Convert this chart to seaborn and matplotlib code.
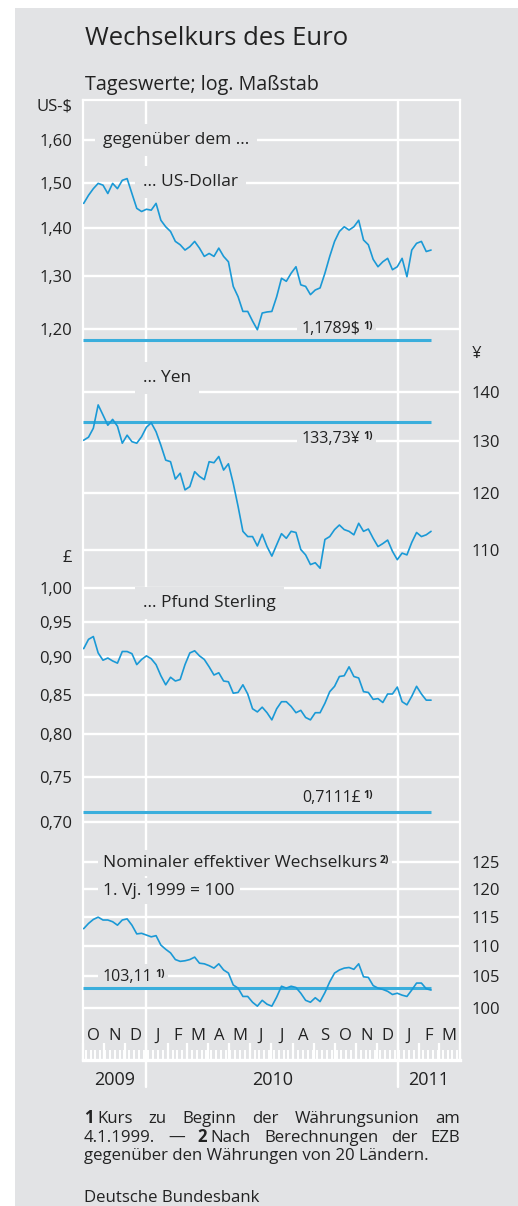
import numpy as np
import pandas as pd
import matplotlib
matplotlib.use("Agg")
import matplotlib.pyplot as plt
import matplotlib.dates as mdates
import matplotlib.transforms as mtransforms
from matplotlib.patches import Rectangle
from matplotlib.ticker import FixedLocator, FuncFormatter, NullLocator
import seaborn as sns

# weekly readings taken off the daily chart, Oct 2009 - Feb 2011
dates = pd.date_range("2009-10-02", periods=73, freq="7D")

usd = [1.453, 1.471, 1.486, 1.498, 1.494, 1.475, 1.498, 1.486, 1.505, 1.509,
       1.475, 1.442, 1.435, 1.440, 1.438, 1.453, 1.416, 1.402, 1.392, 1.371,
       1.364, 1.353, 1.360, 1.371, 1.357, 1.340, 1.346, 1.340, 1.357, 1.340,
       1.329, 1.280, 1.260, 1.232, 1.232, 1.214, 1.198, 1.229, 1.231, 1.232,
       1.260, 1.296, 1.290, 1.306, 1.319, 1.283, 1.280, 1.264, 1.273, 1.277,
       1.306, 1.340, 1.371, 1.392, 1.402, 1.395, 1.402, 1.416, 1.374, 1.364,
       1.334, 1.319, 1.329, 1.336, 1.313, 1.319, 1.336, 1.299, 1.353, 1.367,
       1.371, 1.350, 1.353]

jpy = [130.1, 130.7, 132.5, 137.3, 135.2, 133.1, 134.3, 132.9, 129.5, 131.1,
       129.8, 129.5, 130.8, 132.7, 133.6, 131.8, 129.1, 126.2, 125.9, 122.6,
       123.7, 120.6, 121.2, 124.0, 123.1, 122.5, 125.9, 125.7, 126.9, 124.3,
       125.5, 121.8, 117.6, 113.2, 112.3, 112.3, 110.7, 112.7, 110.6, 109.0,
       110.9, 112.8, 112.0, 113.2, 113.0, 110.1, 109.2, 107.6, 107.9, 107.0,
       111.8, 112.3, 113.5, 114.3, 113.5, 113.2, 112.6, 114.6, 113.2, 113.6,
       112.0, 110.6, 111.1, 111.7, 109.8, 108.4, 109.5, 109.2, 111.3, 113.0,
       112.3, 112.6, 113.2]

gbp = [0.912, 0.925, 0.929, 0.906, 0.896, 0.899, 0.895, 0.892, 0.908, 0.908,
       0.905, 0.890, 0.897, 0.902, 0.898, 0.890, 0.875, 0.863, 0.873, 0.868,
       0.870, 0.890, 0.906, 0.909, 0.902, 0.897, 0.887, 0.876, 0.879, 0.868,
       0.867, 0.852, 0.853, 0.863, 0.851, 0.832, 0.828, 0.834, 0.827, 0.818,
       0.832, 0.841, 0.841, 0.835, 0.827, 0.830, 0.821, 0.818, 0.827, 0.827,
       0.839, 0.854, 0.861, 0.874, 0.875, 0.887, 0.874, 0.872, 0.854, 0.853,
       0.844, 0.845, 0.840, 0.851, 0.851, 0.860, 0.841, 0.837, 0.848, 0.861,
       0.851, 0.843, 0.843]

neer = [112.9, 113.8, 114.5, 114.9, 114.4, 114.4, 114.1, 113.5, 114.4, 114.6,
        113.5, 112.0, 112.1, 111.8, 111.5, 111.7, 110.1, 109.4, 108.8, 107.7,
        107.4, 107.5, 107.7, 108.1, 107.1, 107.0, 106.7, 106.3, 107.0, 106.0,
        105.5, 103.6, 103.1, 101.8, 101.8, 100.9, 100.3, 101.2, 100.6, 100.3,
        101.7, 103.4, 103.1, 103.4, 103.2, 102.3, 101.2, 100.9, 101.6, 101.0,
        102.4, 104.1, 105.5, 106.0, 106.3, 106.4, 106.1, 107.0, 104.9, 104.8,
        103.5, 103.1, 102.9, 102.6, 102.1, 102.3, 102.0, 101.8, 102.8, 103.9,
        103.9, 103.0, 102.8]

usd_ticks = [1.20, 1.30, 1.40, 1.50, 1.60]
jpy_ticks = [110, 120, 130, 140]
gbp_ticks = [0.70, 0.75, 0.80, 0.85, 0.90, 0.95, 1.00]
neer_ticks = [100, 105, 110, 115, 120, 125]

# rates at the start of monetary union, 4.1.1999
usd_start = 1.1789
jpy_start = 133.73
gbp_start = 0.7111
neer_start = 103.11

month_letters = list("ONDJFMAMJJASONDJFM")
years = ["2009", "2010", "2011"]

x_start = pd.Timestamp("2009-10-01")
x_end = pd.Timestamp("2011-04-01")

# ---- layout (pixels of the 518 x 1206 image) ----
W, H = 518, 1206
L, R, T, B = 83, 460, 100, 1060
K = 655.0  # pixels per unit of ln on every log panel

BG = "#e2e3e5"
INK = "#222222"
BLUE = "#1a99d6"
REF = "#3aaedc"

sns.set_style("white")
plt.rcParams["font.family"] = ["Open Sans", "DejaVu Sans"]

fig = plt.figure(figsize=(W / 100, H / 100), dpi=100, facecolor="white")
fig.patches.append(Rectangle((15 / W, 0), 1 - 15 / W, 1 - 8 / H, transform=fig.transFigure,
                             fc=BG, ec="none", zorder=-5))
rect = [L / W, 1 - B / H, (R - L) / W, (B - T) / H]


def frac(px, py):
    return ((px - L) / (R - L), (B - py) / (B - T))


def label(ax, px, py, s, sup=None, size=12.5, sup_size=7.5, pad=0.3):
    t = ax.text(*frac(px, py), s, transform=ax.transAxes, ha="left", va="center",
                fontsize=size, color=INK, zorder=6,
                bbox=dict(boxstyle=f"square,pad={pad}", fc=BG, ec="none"))
    if sup:
        ax.annotate(sup, xy=(1, 1.02), xycoords=t, xytext=(1.8, 0), textcoords="offset points",
                    ha="left", va="top", fontsize=sup_size, fontweight="bold", color=INK, zorder=6,
                    bbox=dict(boxstyle="square,pad=0.3", fc=BG, ec="none"))
    return t


panels = [
    (usd, usd_ticks, usd_start, 1.40, 227.7, "left", "{:.2f}"),
    (jpy, jpy_ticks, jpy_start, 130.0, 440.7, "right", "{:.0f}"),
    (gbp, gbp_ticks, gbp_start, 0.90, 657.3, "left", "{:.2f}"),
    (neer, neer_ticks, neer_start, 110.0, 945.7, "right", "{:.0f}"),
]

axes = []
for values, ticks, start, anchor, anchor_px, side, fmt in panels:
    ax = fig.add_axes(rect, sharex=axes[0] if axes else None)
    ax.set_facecolor("none")
    ax.set_yscale("log")
    ax.set_ylim(anchor * np.exp(-(B - anchor_px) / K), anchor * np.exp((anchor_px - T) / K))
    ax.yaxis.set_major_locator(FixedLocator(ticks))
    ax.yaxis.set_minor_locator(NullLocator())
    ax.yaxis.set_major_formatter(FuncFormatter(lambda v, p, f=fmt: f.format(v).replace(".", ",")))
    if side == "right":
        ax.yaxis.tick_right()
        ax.tick_params(axis="y", length=0, pad=8.6, labelsize=12, labelcolor=INK)
    else:
        ax.tick_params(axis="y", length=0, pad=7.9, labelsize=12, labelcolor=INK)
    ax.grid(axis="y", color="white", lw=1.7)
    ax.grid(axis="x", visible=False)
    for s in ax.spines.values():
        s.set_visible(False)

    # reference line sits above the caption boxes so it is never cut
    ax.hlines(start, x_start, dates[-1], color=REF, lw=2.2, zorder=7)
    sns.lineplot(x=dates, y=values, ax=ax, color=BLUE, linewidth=1.2, zorder=8)
    ax.set(xlabel=None, ylabel=None)
    ax.tick_params(axis="x", which="both", bottom=False, labelbottom=False)
    axes.append(ax)

ax_usd, ax_jpy, ax_gbp, ax_neer = axes

# frame, month ticks and year separators on the base panel
ax0 = ax_usd
ax0.set_xlim(x_start, x_end)
for side in ["left", "top", "right"]:
    ax0.spines[side].set_visible(True)
    ax0.spines[side].set_color("white")
    ax0.spines[side].set_linewidth(1.6)
ax0.spines["bottom"].set_visible(True)
ax0.spines["bottom"].set_color("white")
ax0.spines["bottom"].set_linewidth(2.4)
ax0.xaxis.set_major_locator(mdates.MonthLocator())
ax0.xaxis.set_minor_locator(mdates.WeekdayLocator(byweekday=mdates.MO))
ax0.tick_params(axis="x", which="major", bottom=True, direction="in", length=12.5, width=1.6,
                color="white", labelbottom=False)
ax0.tick_params(axis="x", which="minor", bottom=True, direction="in", length=7.5, width=1.4,
                color="white", labelbottom=False)
for d in ["2010-01-01", "2011-01-01"]:
    ax0.axvline(pd.Timestamp(d), ymin=-(1087 - B) / (B - T), ymax=1, color="white", lw=1.7,
                clip_on=False, zorder=2)

xt = mtransforms.blended_transform_factory(ax0.transData, ax0.transAxes)
month_starts = pd.date_range(x_start, periods=len(month_letters) + 1, freq="MS")
for m0, m1, letter in zip(month_starts[:-1], month_starts[1:], month_letters):
    ax0.text(m0 + (m1 - m0) / 2, frac(0, 1036)[1], letter, transform=xt, ha="center",
             va="center", fontsize=12, color=INK)

year_bounds = [x_start, pd.Timestamp("2010-01-01"), pd.Timestamp("2011-01-01"), x_end]
for a, b, yr in zip(year_bounds[:-1], year_bounds[1:], years):
    ax0.text(a + (b - a) / 2, frac(0, 1080)[1], yr, transform=xt, ha="center", va="center",
             fontsize=13, color=INK, clip_on=False)

# unit labels
ax0.text(*frac(72, 107), "US-\\$", transform=ax0.transAxes, ha="right", va="center",
         fontsize=12, color=INK)
ax0.text(*frac(472, 354), "¥", transform=ax0.transAxes, ha="left", va="center",
         fontsize=12, color=INK)
ax0.text(*frac(72, 558), "£", transform=ax0.transAxes, ha="right", va="center",
         fontsize=12, color=INK)

# panel captions
label(ax_usd, 103, 140, "gegenüber dem ...", pad=0.45)
label(ax_usd, 143, 182, "... US-Dollar", pad=0.45)
label(ax_jpy, 143, 378, "... Yen", pad=0.45)
label(ax_gbp, 143, 603, "... Pfund Sterling", pad=0.45)
label(ax_neer, 103, 863, "Nominaler effektiver Wechselkurs", sup="2)")
label(ax_neer, 103, 891, "1. Vj. 1999 = 100")

label(ax_usd, 302, 329, "1,1789\\$", sup="1)", size=11.5)
label(ax_jpy, 302, 439, "133,73¥", sup="1)", size=11.5)
label(ax_gbp, 302, 798, "0,7111£", sup="1)", size=11.5)
label(ax_neer, 103, 977, "103,11", sup="1)", size=11.5)

# titles
fig.text(85 / W, 1 - 45 / H, "Wechselkurs des Euro", fontsize=18.5, color=INK, va="baseline")
fig.text(85 / W, 1 - 90 / H, "Tageswerte; log. Maßstab", fontsize=14.2, color=INK, va="baseline")

# footnotes, first two lines justified
renderer = fig.canvas.get_renderer()
FOOT = 12.1


def justified(groups, y, x0=84, x1=460, gap=3.5):
    placed = []
    for group in groups:
        texts = [fig.text(0, 1 - y / H, seg, fontsize=FOOT, color=INK, va="baseline",
                          fontweight="bold" if bold else "normal") for seg, bold in group]
        widths = [t.get_window_extent(renderer).width for t in texts]
        placed.append((texts, widths, sum(widths) + gap * (len(texts) - 1)))
    spare = (x1 - x0 - sum(p[2] for p in placed)) / (len(placed) - 1)
    x = x0
    for texts, widths, total in placed:
        xx = x
        for t, w in zip(texts, widths):
            t.set_x(xx / W)
            xx += w + gap
        x += total + spare


justified([[("1", True), ("Kurs", False)], [("zu", False)], [("Beginn", False)], [("der", False)],
           [("Währungsunion", False)], [("am", False)]], 1123)
justified([[("4.1.1999.", False)], [("—", False)], [("2", True), ("Nach", False)],
           [("Berechnungen", False)], [("der", False)], [("EZB", False)]], 1141.5)
fig.text(84 / W, 1 - 1160 / H, "gegenüber den Währungen von 20 Ländern.", fontsize=FOOT,
         color=INK, va="baseline")
fig.text(84 / W, 1 - 1201.5 / H, "Deutsche Bundesbank", fontsize=FOOT, color=INK, va="baseline")

fig.savefig("out.png", dpi=100, facecolor=fig.get_facecolor())
